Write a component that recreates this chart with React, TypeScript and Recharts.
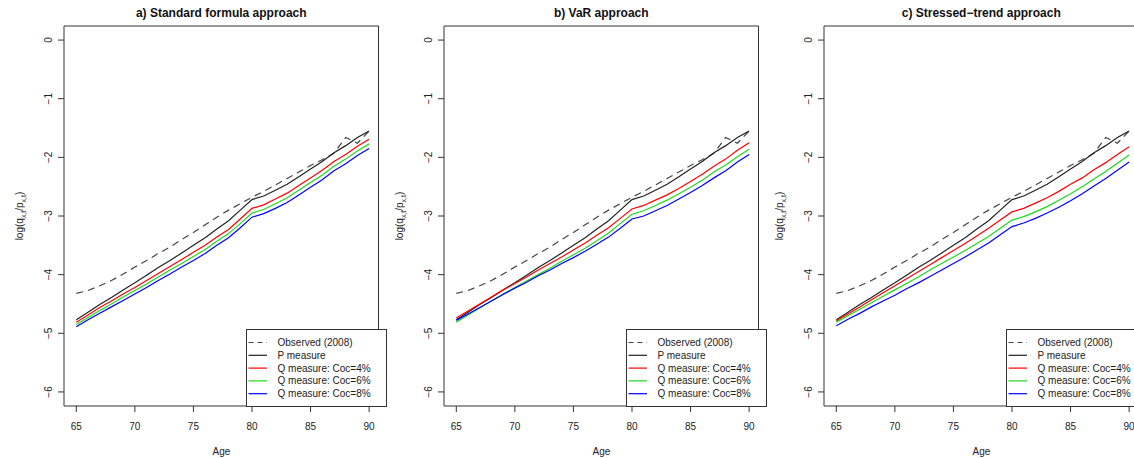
import React from 'react';
import { LineChart, Line, XAxis, YAxis, ReferenceArea, Legend } from 'recharts';

const ages = [65, 66, 67, 68, 69, 70, 71, 72, 73, 74, 75, 76, 77, 78, 79, 80, 81, 82, 83, 84, 85, 86, 87, 88, 89, 90];

const observed = [-4.32, -4.27, -4.19, -4.1, -3.99, -3.87, -3.76, -3.64, -3.53, -3.4, -3.28, -3.15, -3.02, -2.9, -2.79, -2.68, -2.58, -2.47, -2.36, -2.25, -2.14, -2.04, -1.93, -1.66, -1.76, -1.55];
const pMeasure = [-4.77, -4.64, -4.51, -4.39, -4.26, -4.14, -4.01, -3.88, -3.76, -3.63, -3.5, -3.37, -3.22, -3.08, -2.9, -2.72, -2.66, -2.56, -2.46, -2.33, -2.2, -2.07, -1.92, -1.8, -1.66, -1.55];

// a) standard formula
const stdQ4 = [-4.81, -4.69, -4.56, -4.45, -4.33, -4.22, -4.1, -3.98, -3.86, -3.74, -3.62, -3.5, -3.36, -3.23, -3.05, -2.87, -2.81, -2.71, -2.61, -2.48, -2.35, -2.22, -2.07, -1.95, -1.81, -1.69];
const stdQ6 = [-4.85, -4.73, -4.61, -4.5, -4.38, -4.27, -4.16, -4.04, -3.92, -3.81, -3.69, -3.57, -3.43, -3.3, -3.13, -2.95, -2.89, -2.79, -2.69, -2.56, -2.43, -2.3, -2.15, -2.03, -1.89, -1.77];
const stdQ8 = [-4.89, -4.77, -4.66, -4.55, -4.44, -4.33, -4.22, -4.1, -3.99, -3.87, -3.76, -3.64, -3.5, -3.37, -3.2, -3.02, -2.96, -2.87, -2.77, -2.64, -2.51, -2.38, -2.23, -2.11, -1.97, -1.85];

// b) VaR
const varQ4 = [-4.74, -4.62, -4.5, -4.38, -4.26, -4.15, -4.04, -3.92, -3.81, -3.7, -3.58, -3.46, -3.33, -3.2, -3.04, -2.88, -2.82, -2.73, -2.64, -2.53, -2.41, -2.29, -2.15, -2.03, -1.88, -1.75];
const varQ6 = [-4.81, -4.69, -4.57, -4.45, -4.33, -4.22, -4.11, -4.0, -3.89, -3.77, -3.66, -3.55, -3.42, -3.29, -3.13, -2.97, -2.91, -2.82, -2.73, -2.62, -2.51, -2.39, -2.25, -2.13, -1.99, -1.86];
const varQ8 = [-4.78, -4.67, -4.56, -4.45, -4.34, -4.23, -4.13, -4.02, -3.92, -3.81, -3.71, -3.6, -3.48, -3.36, -3.21, -3.05, -3.0, -2.91, -2.82, -2.71, -2.6, -2.48, -2.35, -2.23, -2.08, -1.95];

// c) stressed trend
const strQ4 = [-4.79, -4.67, -4.55, -4.43, -4.31, -4.19, -4.07, -3.95, -3.83, -3.71, -3.59, -3.47, -3.34, -3.21, -3.07, -2.93, -2.87, -2.78, -2.69, -2.58, -2.46, -2.35, -2.21, -2.09, -1.95, -1.82];
const strQ6 = [-4.81, -4.7, -4.59, -4.48, -4.37, -4.26, -4.15, -4.04, -3.92, -3.81, -3.7, -3.59, -3.47, -3.35, -3.21, -3.07, -3.01, -2.93, -2.84, -2.73, -2.62, -2.5, -2.37, -2.24, -2.1, -1.96];
const strQ8 = [-4.87, -4.76, -4.66, -4.55, -4.45, -4.35, -4.24, -4.14, -4.03, -3.92, -3.81, -3.7, -3.58, -3.46, -3.32, -3.18, -3.12, -3.04, -2.95, -2.85, -2.74, -2.62, -2.49, -2.36, -2.22, -2.08];

const xTicks = [65, 70, 75, 80, 85, 90];
const yTicks = [-6, -5, -4, -3, -2, -1, 0];

const FONT = '"Liberation Sans", Arial, Helvetica, sans-serif';
const X_DOMAIN: [number, number] = [63.95, 90.8];
const Y_DOMAIN: [number, number] = [-6.24, 0.24];

const series = [
  { key: 'obs', name: 'Observed (2008)', color: '#444', dash: '7 5' },
  { key: 'p', name: 'P measure', color: '#222', dash: undefined },
  { key: 'q4', name: 'Q measure: Coc=4%', color: '#ff0000', dash: undefined },
  { key: 'q6', name: 'Q measure: Coc=6%', color: '#1ed81e', dash: undefined },
  { key: 'q8', name: 'Q measure: Coc=8%', color: '#0000ff', dash: undefined },
];

const fmt = (v: number) => (v < 0 ? '\u2212' + Math.abs(v) : String(v));

const XTick = (props: any) => {
  const { x, y, payload } = props;
  return (
    <text x={x} y={y + 17.5} textAnchor="middle" fontSize={10} fill="#222" fontFamily={FONT}>
      {payload.value}
    </text>
  );
};

const YTick = (props: any) => {
  const { x, y, payload } = props;
  const bx = x - 6;
  return (
    <text x={bx} y={y} transform={`rotate(-90, ${bx}, ${y})`} textAnchor="middle" fontSize={10} fill="#222" fontFamily={FONT}>
      {fmt(payload.value)}
    </text>
  );
};

const LegendBox = () => (
  <svg width={140} height={78} style={{ display: 'block', overflow: 'visible' }}>
    <rect x={0.5} y={0.5} width={140} height={77} fill="#fff" stroke="#333" />
    {series.map((s, i) => {
      const cy = 13.5 + i * 12.8;
      return (
        <g key={s.key}>
          <line x1={2.5} x2={21} y1={cy} y2={cy} stroke={s.color} strokeWidth={1.2} strokeDasharray={s.dash ? '5 4' : undefined} />
          <text x={31.5} y={cy + 3.5} fontSize={10} fill="#222" fontFamily={FONT}>
            {s.name}
          </text>
        </g>
      );
    })}
  </svg>
);

interface PanelProps {
  title: string;
  left: number;
  q4: number[];
  q6: number[];
  q8: number[];
}

const Panel: React.FC<PanelProps> = ({ title, left, q4, q6, q8 }) => {
  const data = ages.map((age, i) => ({
    age,
    obs: observed[i],
    p: pMeasure[i],
    q4: q4[i],
    q6: q6[i],
    q8: q8[i],
  }));

  return (
    <div style={{ position: 'absolute', left, top: 0, width: 380, height: 458 }}>
      <div
        style={{
          position: 'absolute',
          left: 64,
          top: 5,
          width: 314.5,
          textAlign: 'center',
          fontFamily: FONT,
          fontWeight: 'bold',
          fontSize: 12,
          lineHeight: '16px',
          color: '#111',
          zIndex: 2,
        }}
      >
        {title}
      </div>
      <LineChart width={380} height={458} data={data} margin={{ top: 26, right: 1.5, bottom: 0, left: 0 }}>
        <XAxis
          dataKey="age"
          type="number"
          domain={X_DOMAIN}
          ticks={xTicks}
          allowDataOverflow
          axisLine={false}
          tickLine={{ stroke: '#333' }}
          tickSize={6}
          tickMargin={0}
          tick={<XTick />}
          height={52}
          label={{
            content: () => (
              <text x={221.5} y={455} textAnchor="middle" fontSize={10} fill="#222" fontFamily={FONT}>
                Age
              </text>
            ),
          }}
        />
        <YAxis
          type="number"
          domain={Y_DOMAIN}
          ticks={yTicks}
          allowDataOverflow
          axisLine={false}
          tickLine={{ stroke: '#333' }}
          tickSize={6}
          tickMargin={0}
          tick={<YTick />}
          width={64}
          label={{
            content: () => (
              <text x={23} y={216} transform="rotate(-90, 23, 216)" textAnchor="middle" fontSize={10} fill="#222" fontFamily={FONT}>
                log(q<tspan fontSize={7} dy={3}>x,t</tspan>
                <tspan dy={-3}>/</tspan>p<tspan fontSize={7} dy={3}>x,t</tspan>
                <tspan dy={-3}>)</tspan>
              </text>
            ),
          }}
        />
        <ReferenceArea x1={X_DOMAIN[0]} x2={X_DOMAIN[1]} y1={Y_DOMAIN[0]} y2={Y_DOMAIN[1]} fill="none" stroke="#333" strokeWidth={1} ifOverflow="visible" />
        {series.map((s) => (
          <Line
            key={s.key}
            type="linear"
            dataKey={s.key}
            name={s.name}
            stroke={s.color}
            strokeWidth={1.2}
            strokeDasharray={s.dash}
            dot={false}
            activeDot={false}
            isAnimationActive={false}
          />
        ))}
        <Legend
          layout="horizontal"
          verticalAlign="middle"
          align="center"
          content={() => <LegendBox />}
          wrapperStyle={{ left: 246, top: 328.5, width: 140, height: 78, bottom: 'auto', right: 'auto' }}
        />
      </LineChart>
    </div>
  );
};

export default function App() {
  return (
    <div style={{ position: 'absolute', left: 0, top: 0, width: 1134, height: 458, overflow: 'hidden', background: '#fff' }}>
      <Panel title="a) Standard formula approach" left={0} q4={stdQ4} q6={stdQ6} q8={stdQ8} />
      <Panel title="b) VaR approach" left={380} q4={varQ4} q6={varQ6} q8={varQ8} />
      <Panel title={'c) Stressed\u2212trend approach'} left={760} q4={strQ4} q6={strQ6} q8={strQ8} />
    </div>
  );
}
